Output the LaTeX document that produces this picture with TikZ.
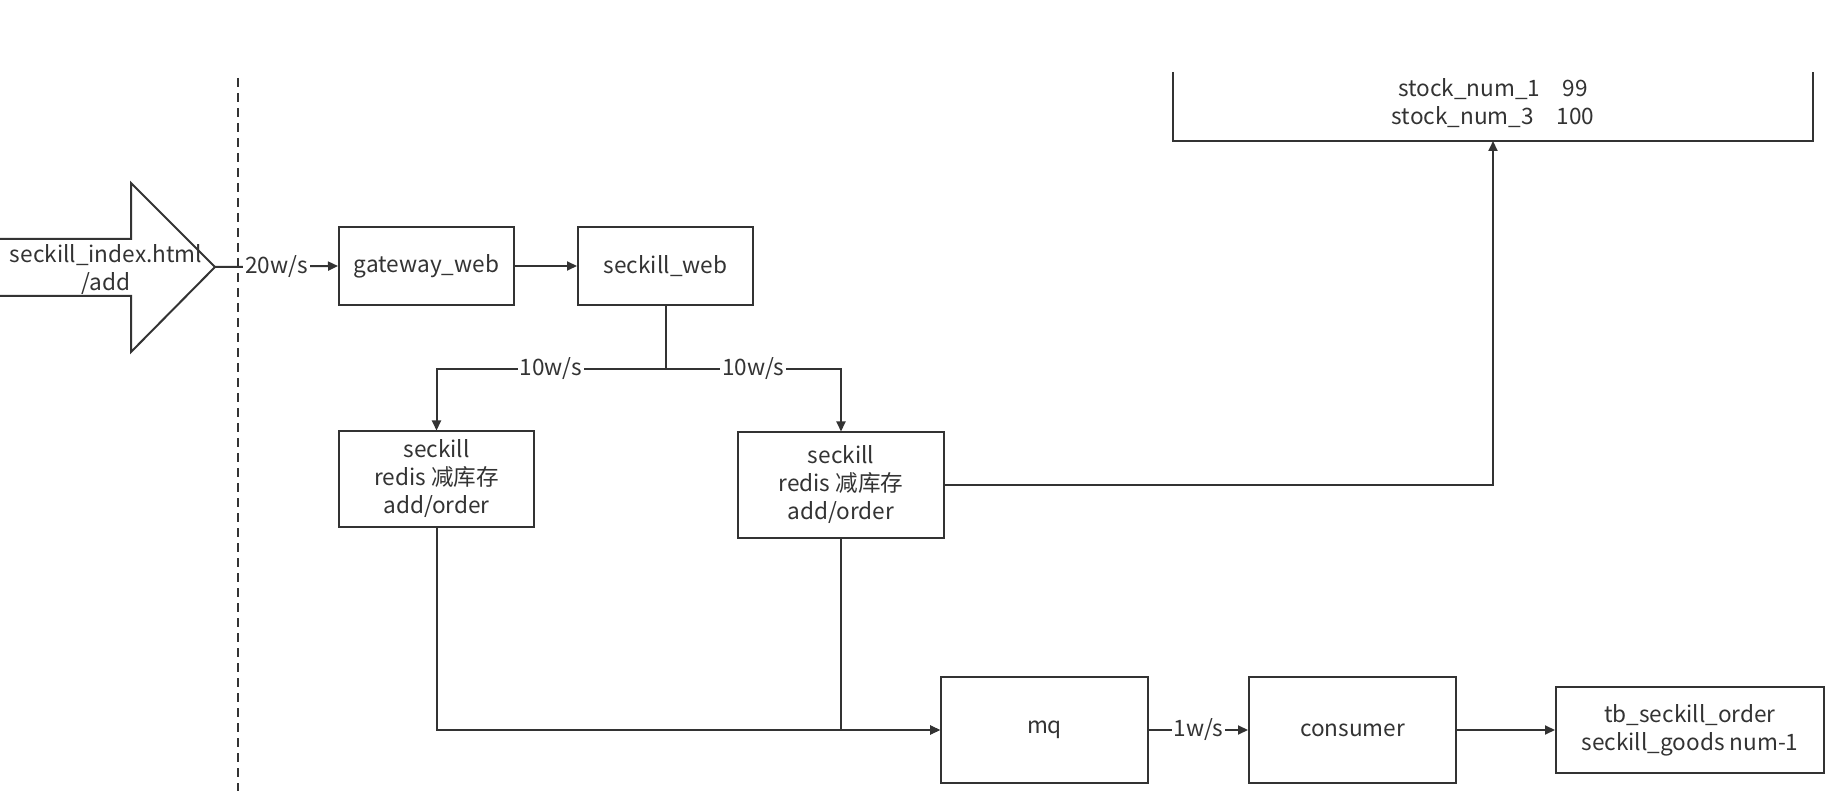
\documentclass[tikz,border=0pt]{standalone}
\usepackage{fontspec}
\setmainfont{Noto Sans CJK SC}
\usetikzlibrary{arrows.meta}
\definecolor{ink}{HTML}{333333}
\begin{document}
\begin{tikzpicture}[x=0.5pt,y=-0.5pt,
  every node/.style={font=\fontsize{11.3}{14}\selectfont, text=ink},
  box/.style={draw=ink, line width=1pt, fill=white, align=center, inner sep=0pt},
  size/.style 2 args={minimum width=#1*0.5pt, minimum height=#2*0.5pt},
  conn/.style={draw=ink, line width=1pt},
  arr/.style={conn, -{Triangle[length=5pt,width=4.5pt]}},
  rate/.style={fill=white, inner sep=1pt},
  fence/.style={conn, dash pattern=on 4.5pt off 3pt}]
\useasboundingbox (0,0) rectangle (1828,791);

% boundary between client and server side
\coordinate (dtop) at (238,78);
\coordinate (dbot) at (238,791);
\draw[fence] (dtop) -- (dbot);

% incoming request arrow
\draw[conn, line join=miter] (0,239) -- (131,239) -- (131,183) -- (215,267)
  -- (131,352) -- (131,296) -- (0,296);
\coordinate (tip) at (215,267);
\node[align=center] (req) at (106,270) {seckill\_index.html\\/add};

% services
\node[box, size={175}{78}] (gw) at (426.5,266) {gateway\_web};
\node[box, size={175}{78}] (sw) at (665.5,266) {seckill\_web};
\node[box, size={195}{95}] (ls) at (436.5,479) {seckill\\redis 减库存\\add/order};
\node[box, size={206}{105}] (rs) at (841,485) {seckill\\redis 减库存\\add/order};
\node[box, size={207}{106}] (mq) at (1044.5,730) {mq};
\node[box, size={207}{106}] (cons) at (1352.5,730) {consumer};
\node[box, size={268}{86}] (tb) at (1690,730) {tb\_seckill\_order\\seckill\_goods num-1};

% redis stock table (open at the top)
\draw[conn] (1173,72) -- (1173,141) -- (1813,141) -- (1813,72);
\coordinate (stockin) at (1493,141);
\node[align=center] (stock) at (1493,103) {stock\_num\_1\quad 99\\stock\_num\_3\quad 100};

% connectors
\draw[arr] (tip) -- node[rate]{20w/s} (gw.west);
\draw[arr] (gw) -- (sw);
\coordinate (fork) at (sw.south |- 0,369);
\draw[conn] (sw.south) -- (fork);
\draw[arr] (fork) -| node[rate, pos=0.25]{10w/s} (ls.north);
\draw[arr] (fork) -| node[rate, pos=0.25]{10w/s} (rs.north);
\draw[arr] (rs.east) -| (stockin);
\draw[arr] (ls.south) |- (mq.west);
\draw[arr] (rs.south) |- (mq.west);
\draw[arr] (mq) -- node[rate]{1w/s} (cons);
\draw[arr] (cons) -- (tb);
\end{tikzpicture}
\end{document}
